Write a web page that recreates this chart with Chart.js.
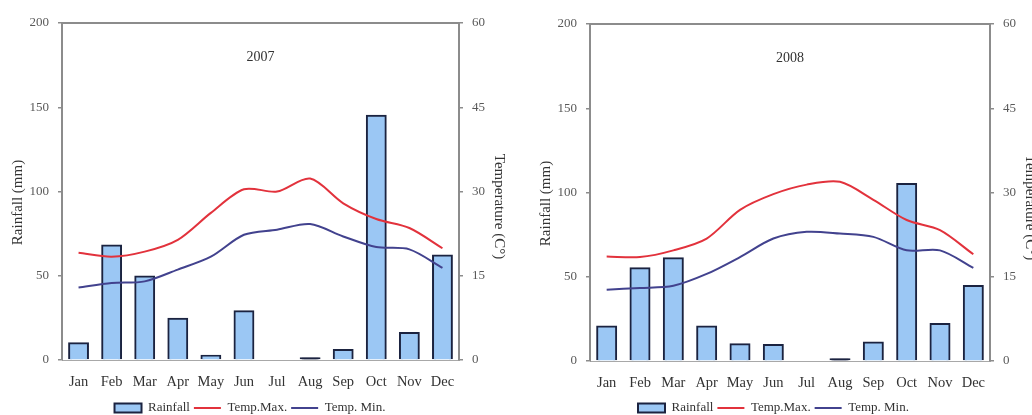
<!DOCTYPE html>
<html>
<head>
<meta charset="utf-8">
<script src="https://cdn.jsdelivr.net/npm/chart.js@4/dist/chart.umd.min.js"></script>
<style>
  html, body { margin: 0; padding: 0; background: #fff; overflow: hidden; width: 1032px; height: 415px; position: relative; }
  .panel { position: absolute; top: 0; height: 415px; }
  #panel2007 { left: -20px; width: 540px; }
  #panel2008 { left: 496px; width: 555px; }
</style>
</head>
<body>
<div class="panel" id="panel2007"><canvas id="chart2007"></canvas></div>
<div class="panel" id="panel2008"><canvas id="chart2008"></canvas></div>
<script>
// Monthly climate data: rainfall (mm, left axis) and temperature (°C, right axis)
const months = ['Jan', 'Feb', 'Mar', 'Apr', 'May', 'Jun', 'Jul', 'Aug', 'Sep', 'Oct', 'Nov', 'Dec'];
const years = ['2007', '2008'];

const rainfall2007 = [10, 68, 49.5, 24.5, 2.5, 29, 0, 1, 6, 145, 16, 62];
const tempMax2007  = [19.1, 18.4, 19.3, 21.4, 26.2, 30.4, 30.0, 32.3, 27.9, 25.1, 23.5, 19.9];
const tempMin2007  = [12.9, 13.7, 14.0, 16.1, 18.4, 22.3, 23.2, 24.2, 22.0, 20.1, 19.7, 16.4];

const rainfall2008 = [20.5, 55, 61, 20.5, 10, 9.5, 0, 1, 11, 105, 22, 44.5];
const tempMax2008  = [18.6, 18.5, 19.7, 21.8, 26.9, 29.7, 31.4, 31.9, 28.7, 25.1, 23.3, 19.0];
const tempMin2008  = [12.7, 13.0, 13.4, 15.5, 18.5, 21.8, 23.0, 22.7, 22.1, 19.7, 19.7, 16.6];

const rainfallTicks = [0, 50, 100, 150, 200];
const temperatureTicks = [0, 15, 30, 45, 60];

const seriesNames = ['Rainfall', 'Temp.Max.', 'Temp. Min.'];
const axisTitles = ['Rainfall (mm)', 'Temperature (C°)'];

const serif = "'Liberation Serif', 'DejaVu Serif', serif";
Chart.defaults.font.family = serif;
Chart.defaults.color = '#333';

const axisGray = '#8c8c8c';
const barFill = '#9bc7f4';
const barEdge = '#1b2340';

// Plot frame top edge, the year label inside the plot, and both axis titles
const panelDecor = {
  id: 'panelDecor',
  afterDatasetsDraw(chart, args, opts) {
    const { ctx, chartArea } = chart;
    const midY = (chartArea.top + chartArea.bottom) / 2;
    ctx.save();
    ctx.strokeStyle = axisGray;
    ctx.lineWidth = 2;
    ctx.beginPath();
    ctx.moveTo(chartArea.left, chartArea.top);
    ctx.lineTo(chartArea.right, chartArea.top);
    ctx.stroke();

    ctx.fillStyle = '#333';
    ctx.textAlign = 'center';
    ctx.textBaseline = 'middle';
    ctx.font = '14px ' + serif;
    ctx.fillText(opts.text, (chartArea.left + chartArea.right) / 2, chartArea.top + 34);

    ctx.font = '15px ' + serif;
    ctx.save();
    ctx.translate(chartArea.left - 44, midY + 11);
    ctx.rotate(-Math.PI / 2);
    ctx.fillText(axisTitles[0], 0, 0);
    ctx.restore();

    ctx.save();
    ctx.translate(chartArea.right + 40, midY + 15);
    ctx.rotate(Math.PI / 2);
    ctx.fillText(axisTitles[1], 0, 0);
    ctx.restore();
    ctx.restore();
  }
};

function buildChart(canvasId, year, rain, tMax, tMin, opt) {
  return new Chart(document.getElementById(canvasId), {
    data: {
      labels: months,
      datasets: [
        {
          type: 'bar',
          label: seriesNames[0],
          data: rain,
          yAxisID: 'y',
          // very small bars show only their outline colour
          backgroundColor: (c) => (c.raw !== undefined && c.raw < 2 ? barEdge : barFill),
          borderColor: barEdge,
          borderWidth: 2,
          inflateAmount: 1,
          barPercentage: 0.57,
          categoryPercentage: 1.0,
          pointStyle: 'rect',
          order: 2
        },
        {
          type: 'line',
          label: seriesNames[1],
          data: tMax,
          yAxisID: 'y1',
          borderColor: '#e2323c',
          borderWidth: 2,
          pointRadius: 0,
          tension: 0.3,
          pointStyle: 'line',
          order: 1
        },
        {
          type: 'line',
          label: seriesNames[2],
          data: tMin,
          yAxisID: 'y1',
          borderColor: '#42428e',
          borderWidth: 2,
          pointRadius: 0,
          tension: 0.3,
          pointStyle: 'line',
          order: 1
        }
      ]
    },
    options: {
      responsive: true,
      maintainAspectRatio: false,
      animation: false,
      layout: { padding: { top: opt.top, bottom: -9.5, left: 0, right: 0 } },
      plugins: {
        tooltip: { enabled: false },
        panelDecor: { text: year },
        legend: {
          position: 'bottom',
          labels: {
            usePointStyle: true,
            pointStyleWidth: 27,
            boxHeight: 9,
            padding: 4,
            color: '#333',
            font: { size: 13 },
            sort: (a, b) => a.datasetIndex - b.datasetIndex
          }
        }
      },
      scales: {
        x: {
          grid: { display: false },
          border: { display: true, color: '#a8a8a8', width: 1 },
          ticks: { color: '#333', font: { size: 14.5 }, padding: 5, maxRotation: 0, autoSkip: false },
          afterFit(s) { s.height = opt.xHeight; }
        },
        y: {
          position: 'left',
          min: rainfallTicks[0],
          max: rainfallTicks[rainfallTicks.length - 1],
          ticks: { stepSize: rainfallTicks[1] - rainfallTicks[0], color: '#595959', font: { size: 13 }, padding: 9 },
          grid: { display: true, drawOnChartArea: false, drawTicks: true, tickLength: 4, color: axisGray, lineWidth: 1.5 },
          border: { display: true, color: axisGray, width: 2 },
          afterFit(s) { s.width = opt.leftWidth; }
        },
        y1: {
          position: 'right',
          min: temperatureTicks[0],
          max: temperatureTicks[temperatureTicks.length - 1],
          ticks: { stepSize: temperatureTicks[1] - temperatureTicks[0], color: '#595959', font: { size: 13 }, padding: 9 },
          grid: { display: true, drawOnChartArea: false, drawTicks: true, tickLength: 4, color: axisGray, lineWidth: 1.5 },
          border: { display: true, color: axisGray, width: 2 },
          afterFit(s) { s.width = 61; }
        }
      }
    },
    plugins: [panelDecor]
  });
}

buildChart('chart2007', years[0], rainfall2007, tempMax2007, tempMin2007, { top: 23, xHeight: 37.5, leftWidth: 82 });
buildChart('chart2008', years[1], rainfall2008, tempMax2008, tempMin2008, { top: 24, xHeight: 36.5, leftWidth: 94 });
</script>
</body>
</html>
